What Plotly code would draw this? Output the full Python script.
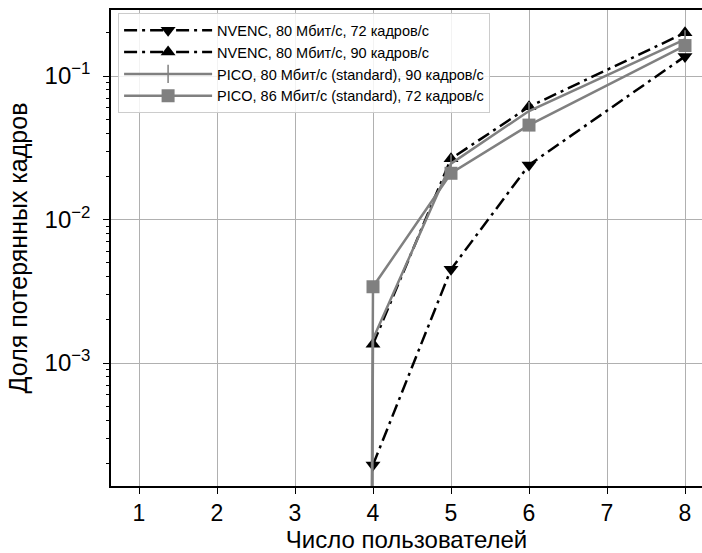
import plotly.graph_objects as go

# ---- data ----
users_nvenc = [4, 5, 6, 8]
nvenc_80_72 = [1.95e-4, 4.5e-3, 0.0240, 0.137]
nvenc_80_90 = [1.35e-3, 0.0265, 0.0610, 0.200]

users_pico = [1, 2, 3, 4, 5, 6, 8]
pico_80_90 = [0, 0, 0, 1.47e-3, 0.0245, 0.0570, 0.180]
pico_86_72 = [0, 0, 0, 3.4e-3, 0.0210, 0.0455, 0.163]

x_ticks = [1, 2, 3, 4, 5, 6, 7, 8]
y_ticks = [1e-3, 1e-2, 1e-1]
y_ticktext = ["10<sup>−3</sup>", "10<sup>−2</sup>", "10<sup>−1</sup>"]

names = [
    "NVENC, 80 Мбит/с, 72 кадров/с",
    "NVENC, 80 Мбит/с, 90 кадров/с",
    "PICO, 80 Мбит/с (standard), 90 кадров/с",
    "PICO, 86 Мбит/с (standard), 72 кадров/с",
]

def clip_nonpos(vals):
    # emulate matplotlib log-scale 'clip' of non-positive values
    return [v if v > 0 else 1e-100 for v in vals]

FAMILY = "Liberation Sans, Arial, sans-serif"
GRAY = "#808080"
DASHDOT = "13px,5px,3px,5px"

fig = go.Figure()
fig.add_trace(go.Scatter(
    x=users_nvenc, y=nvenc_80_72, name=names[0], mode="lines+markers",
    line=dict(color="black", width=2.5, dash=DASHDOT),
    marker=dict(symbol="triangle-down", size=13, color="black")))
fig.add_trace(go.Scatter(
    x=users_nvenc, y=nvenc_80_90, name=names[1], mode="lines+markers",
    line=dict(color="black", width=2.5, dash=DASHDOT),
    marker=dict(symbol="triangle-up", size=13, color="black")))
fig.add_trace(go.Scatter(
    x=users_pico, y=clip_nonpos(pico_80_90), name=names[2], mode="lines+markers",
    line=dict(color=GRAY, width=2.5),
    marker=dict(symbol="line-ns", size=13, color=GRAY,
                line=dict(color=GRAY, width=1.5))))
fig.add_trace(go.Scatter(
    x=users_pico, y=clip_nonpos(pico_86_72), name=names[3], mode="lines+markers",
    line=dict(color=GRAY, width=2.5),
    marker=dict(symbol="square", size=13, color=GRAY)))

minor_vals = []
for d in [1e-4, 1e-3, 1e-2, 1e-1]:
    for m in range(2, 10):
        minor_vals.append(m * d)

fig.update_layout(
    width=702, height=553,
    margin=dict(l=111, r=0, t=10, b=67),
    paper_bgcolor="white", plot_bgcolor="white",
    font=dict(family=FAMILY, size=20, color="black"),
    showlegend=True,
    legend=dict(
        x=0.012, y=0.993, xanchor="left", yanchor="top",
        bgcolor="rgba(255,255,255,0.85)", bordercolor="#cccccc", borderwidth=1,
        font=dict(family=FAMILY, size=14.5), itemwidth=88, tracegroupgap=0,
    ),
    xaxis=dict(
        range=[0.641, 8.218], tickvals=x_ticks,
        showgrid=True, gridcolor="#b0b0b0", gridwidth=1,
        showline=True, linecolor="black", linewidth=1.5, mirror=True,
        ticks="outside", ticklen=6, tickwidth=1.2, tickcolor="black",
        tickfont=dict(family=FAMILY, size=23),
        zeroline=False,
        title=dict(text="Число пользователей", standoff=2,
                   font=dict(family=FAMILY, size=24)),
    ),
    yaxis=dict(
        type="log", range=[-3.857, -0.540],
        tickvals=y_ticks, ticktext=y_ticktext,
        showgrid=True, gridcolor="#b0b0b0", gridwidth=1,
        showline=True, linecolor="black", linewidth=1.5, mirror=False,
        ticks="outside", ticklen=6, tickwidth=1.2, tickcolor="black",
        tickfont=dict(family=FAMILY, size=24), ticklabelstandoff=8,
        zeroline=False,
        minor=dict(tickvals=minor_vals, ticks="outside", ticklen=3.5,
                   tickwidth=1, tickcolor="black", showgrid=False),
        title=dict(text="Доля потерянных кадров", standoff=10,
                   font=dict(family=FAMILY, size=25)),
    ),
)

fig.write_html("out.html")
